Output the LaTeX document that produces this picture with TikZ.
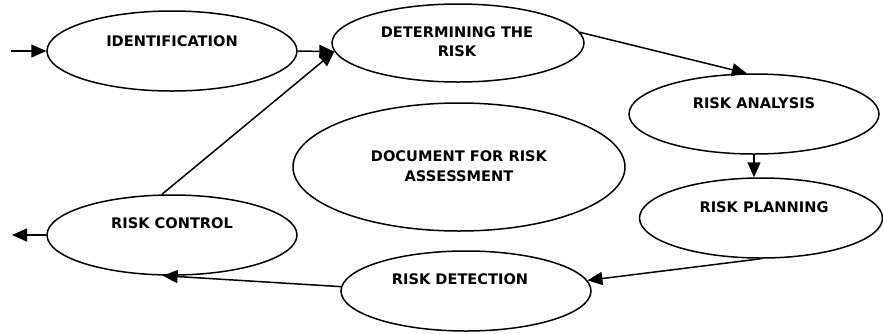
\documentclass[tikz,border=0pt]{standalone}
\usepackage{fontspec}
\setmainfont{DejaVu Sans}
\usetikzlibrary{shapes.geometric,arrows.meta}
\begin{document}
\begin{tikzpicture}[x=1pt,y=-1pt,
  stage/.style={ellipse, draw, line width=1.5pt, inner sep=0pt},
  lbl/.style={font=\bfseries\fontsize{14.6}{19.5}\selectfont, align=center, inner sep=0pt},
  flow/.style={line width=1.5pt, -{Triangle[length=15pt,width=13pt]}}]
\useasboundingbox[fill=white] (0,0) rectangle (883,333);
% ellipses
\node[stage, minimum width=250pt, minimum height=80pt] (idf) at (172,51) {};
\node[stage, minimum width=252pt, minimum height=78pt] (det) at (458,43) {};
\node[stage, minimum width=250pt, minimum height=80pt] (ra) at (754,114) {};
\node[stage, minimum width=243pt, minimum height=80pt] (rp) at (761,218) {};
\node[stage, minimum width=250pt, minimum height=80pt] (rd) at (466,291) {};
\node[stage, minimum width=250pt, minimum height=80pt] (rc) at (172,235) {};
\node[stage, minimum width=332pt, minimum height=128pt] (doc) at (459,167) {};
% labels
\node[lbl] (idf-t) at (172,41) {IDENTIFICATION};
\node[lbl] (det-t) at (457,41.5) {DETERMINING THE\\RISK};
\node[lbl] (ra-t) at (754,103) {RISK ANALYSIS};
\node[lbl] (rp-t) at (764,207) {RISK PLANNING};
\node[lbl] (rd-t) at (460,279) {RISK DETECTION};
\node[lbl] (rc-t) at (172,223) {RISK CONTROL};
\node[lbl] (doc-t) at (459,166) {DOCUMENT FOR RISK\\ASSESSMENT};
% connectors
\coordinate (in) at (11,51);
\coordinate (out) at (12,235);
\draw[flow] (in) -- (idf.west);
\draw[flow] (idf.east) -- (det.184);
\draw[flow] (rc.104) -- (det.184);
\draw[flow] (det.5) -- (ra.100);
\draw[flow] (ra.south) -- (ra.south |- rp.north);
\draw[flow] (rp.south) -- (rd.5);
\draw[flow] (rd.178) -- (rc.257);
\draw[flow] (rc.west) -- (out);
\end{tikzpicture}
\end{document}
